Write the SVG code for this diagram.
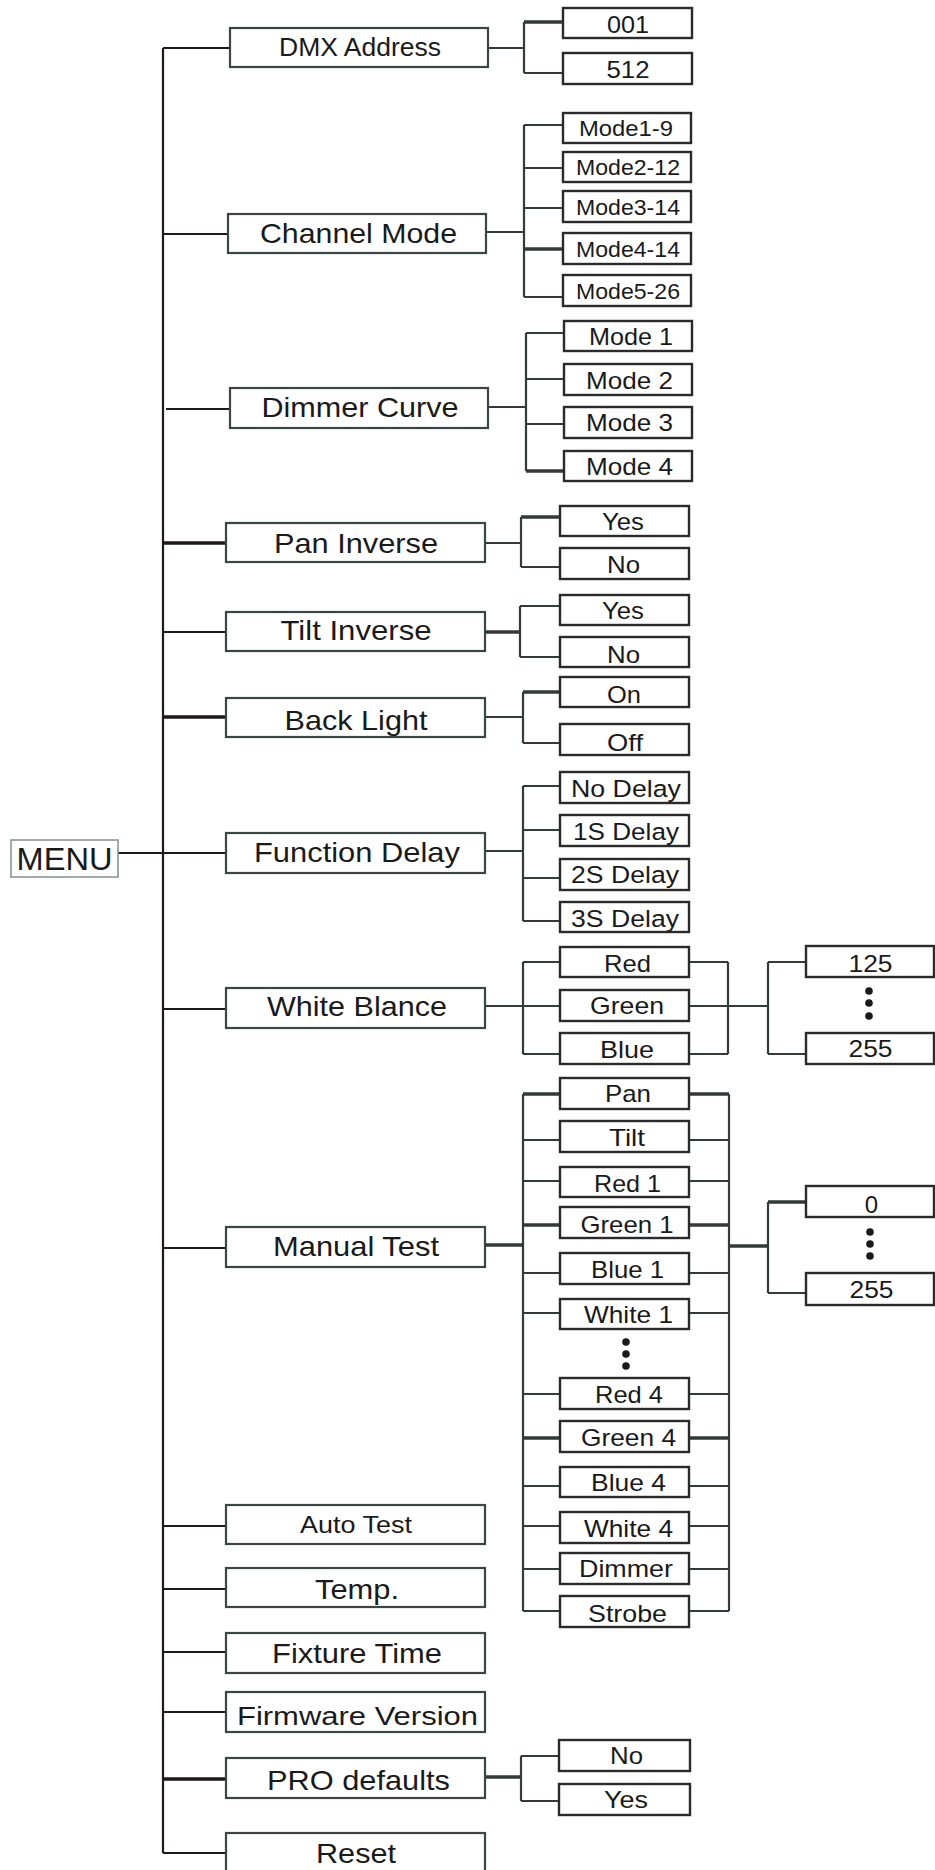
<svg xmlns="http://www.w3.org/2000/svg" width="935" height="1870" viewBox="0 0 935 1870">
<style>
.bg{fill:#fff}
.b1{fill:#fff;stroke:#3a4545;stroke-width:2.2}
.b2{fill:#fff;stroke:#2a2a2a;stroke-width:2.4}
.bm{fill:#fff;stroke:#8a9797;stroke-width:1.6}
text{font-family:"Liberation Sans",Arial,sans-serif;fill:#1a1a1a;text-anchor:middle}
.f1{font-size:28px}
.f2{font-size:24px}
.f3{font-size:21.5px}
.m{stroke:#1e1818;stroke-width:2.2;fill:none}
.c{stroke:#323a3a;stroke-width:2.2;fill:none}
.k{stroke-width:3.6}
.d{fill:#1a1a1a}
</style>
<rect class="bg" x="0" y="0" width="935" height="1870"/>
<g id="connectors">
<path class="m" d="M163 48V1853"/>
<path class="m" d="M163 48H230M163 234H228M166 409H230M163 632H226M118 853H226M163 1009H226M163 1248H226M163 1526H226M163 1589H226M163 1652H226M163 1712H226M163 1853H226"/>
<path class="m k" d="M163 543H226M163 717H226M163 1779H226"/>
<path class="c" d="M488 48H524M524 22V73M524 73H563"/>
<path class="c k" d="M524 22H563"/>
<path class="c" d="M486 232H524M524 125V297M524 125H563M524 168H563M524 208H563M524 297H563"/>
<path class="c k" d="M524 249H563"/>
<path class="c" d="M488 407H526M526 333V471M526 333H564M526 379H564M526 424H564"/>
<path class="c k" d="M526 471H564"/>
<path class="c" d="M485 543H521M521 517V567M521 567H560"/>
<path class="c k" d="M521 517H560"/>
<path class="c" d="M520 606V657M520 606H560M520 657H560"/>
<path class="c k" d="M485 632H520"/>
<path class="c" d="M485 717H523M523 692V743M523 743H560"/>
<path class="c k" d="M523 692H560"/>
<path class="c" d="M485 851H523M523 786V921M523 786H560M523 830H560M523 878H560M523 921H560"/>
<path class="c" d="M485 1006H560M523 962V1054M523 962H560M523 1054H560M689 962H728M689 1054H728M728 962V1054M689 1006H768M768 962V1054M768 962H806M768 1054H806"/>
<path class="c" d="M523 1094V1611M729 1094V1611M523 1140H560M523 1181H560M523 1273H560M523 1313H560M523 1394H560M523 1486H560M523 1526H560M523 1569H560M523 1611H560M689 1140H729M689 1181H729M689 1273H729M689 1313H729M689 1394H729M689 1486H729M689 1526H729M689 1569H729M689 1611H729M768 1202V1293M768 1293H806"/>
<path class="c k" d="M485 1245H523M523 1094H560M523 1225H560M523 1438H560M689 1094H729M689 1225H729M689 1438H729M729 1246H768M768 1202H806"/>
<path class="c" d="M521 1756V1801M521 1756H559M521 1801H559"/>
<path class="c k" d="M485 1777H521"/>
</g>
<g id="menu"><rect class="bm" x="11" y="840" width="107" height="37"/><text x="64.5" y="870" font-size="32" textLength="96" lengthAdjust="spacingAndGlyphs">MENU</text></g>
<g id="dmx-address"><rect class="b1" x="230" y="28" width="258" height="39"/><text x="360" y="56" font-size="25" textLength="162" lengthAdjust="spacingAndGlyphs">DMX Address</text></g>
<g id="dmx-001"><rect class="b2" x="563" y="8" width="129" height="30"/><text x="628" y="32.5" font-size="23" textLength="42" lengthAdjust="spacingAndGlyphs">001</text></g>
<g id="dmx-512"><rect class="b2" x="563" y="53" width="129" height="31"/><text x="628" y="78" font-size="23" textLength="43" lengthAdjust="spacingAndGlyphs">512</text></g>
<g id="channel-mode"><rect class="b1" x="228" y="214" width="258" height="39"/><text class="f1" x="358.5" y="242.5" textLength="197" lengthAdjust="spacingAndGlyphs">Channel Mode</text></g>
<g id="mode1-9"><rect class="b2" x="563" y="113" width="128" height="30"/><text class="f3" x="626" y="136" textLength="94" lengthAdjust="spacingAndGlyphs">Mode1-9</text></g>
<g id="mode2-12"><rect class="b2" x="563" y="152" width="128" height="30"/><text class="f3" x="628" y="175" textLength="104" lengthAdjust="spacingAndGlyphs">Mode2-12</text></g>
<g id="mode3-14"><rect class="b2" x="563" y="191" width="128" height="31"/><text class="f3" x="628" y="214.5" textLength="104" lengthAdjust="spacingAndGlyphs">Mode3-14</text></g>
<g id="mode4-14"><rect class="b2" x="563" y="233" width="128" height="31"/><text class="f3" x="628" y="256.5" textLength="104" lengthAdjust="spacingAndGlyphs">Mode4-14</text></g>
<g id="mode5-26"><rect class="b2" x="563" y="275" width="128" height="31"/><text class="f3" x="628" y="298.5" textLength="104" lengthAdjust="spacingAndGlyphs">Mode5-26</text></g>
<g id="dimmer-curve"><rect class="b1" x="230" y="388" width="258" height="40"/><text class="f1" x="360" y="416.7" textLength="197" lengthAdjust="spacingAndGlyphs">Dimmer Curve</text></g>
<g id="dc-mode1"><rect class="b2" x="564" y="321" width="128" height="30"/><text x="631" y="344.8" font-size="24.5" textLength="84" lengthAdjust="spacingAndGlyphs">Mode 1</text></g>
<g id="dc-mode2"><rect class="b2" x="564" y="364" width="128" height="31"/><text x="629.5" y="388.5" font-size="24.5" textLength="87" lengthAdjust="spacingAndGlyphs">Mode 2</text></g>
<g id="dc-mode3"><rect class="b2" x="564" y="407" width="128" height="31"/><text x="629.5" y="431" font-size="24.5" textLength="87" lengthAdjust="spacingAndGlyphs">Mode 3</text></g>
<g id="dc-mode4"><rect class="b2" x="564" y="451" width="128" height="30"/><text x="629.5" y="475" font-size="24.5" textLength="87" lengthAdjust="spacingAndGlyphs">Mode 4</text></g>
<g id="pan-inverse"><rect class="b1" x="226" y="523" width="259" height="39"/><text class="f1" x="356" y="553" textLength="164" lengthAdjust="spacingAndGlyphs">Pan Inverse</text></g>
<g id="pan-yes"><rect class="b2" x="560" y="506" width="129" height="30"/><text class="f2" x="623" y="530" textLength="42" lengthAdjust="spacingAndGlyphs">Yes</text></g>
<g id="pan-no"><rect class="b2" x="560" y="548" width="129" height="31"/><text class="f2" x="623.5" y="573" textLength="33" lengthAdjust="spacingAndGlyphs">No</text></g>
<g id="tilt-inverse"><rect class="b1" x="226" y="612" width="259" height="39"/><text class="f1" x="356" y="639.5" textLength="151" lengthAdjust="spacingAndGlyphs">Tilt Inverse</text></g>
<g id="tilt-yes"><rect class="b2" x="560" y="595" width="129" height="30"/><text class="f2" x="623" y="619" textLength="42" lengthAdjust="spacingAndGlyphs">Yes</text></g>
<g id="tilt-no"><rect class="b2" x="560" y="637" width="129" height="30"/><text class="f2" x="623.5" y="663" textLength="33" lengthAdjust="spacingAndGlyphs">No</text></g>
<g id="back-light"><rect class="b1" x="226" y="698" width="259" height="39"/><text class="f1" x="356" y="729.5" textLength="143" lengthAdjust="spacingAndGlyphs">Back Light</text></g>
<g id="bl-on"><rect class="b2" x="560" y="677" width="129" height="30"/><text class="f2" x="624" y="703" textLength="34" lengthAdjust="spacingAndGlyphs">On</text></g>
<g id="bl-off"><rect class="b2" x="560" y="724" width="129" height="31"/><text class="f2" x="625" y="750.5" textLength="36" lengthAdjust="spacingAndGlyphs">Off</text></g>
<g id="function-delay"><rect class="b1" x="226" y="833" width="259" height="40"/><text class="f1" x="357" y="861.7" textLength="206" lengthAdjust="spacingAndGlyphs">Function Delay</text></g>
<g id="no-delay"><rect class="b2" x="560" y="772" width="129" height="31"/><text x="626" y="797" font-size="24.5" textLength="110" lengthAdjust="spacingAndGlyphs">No Delay</text></g>
<g id="delay-1s"><rect class="b2" x="560" y="815" width="129" height="31"/><text x="626" y="840" font-size="24.5" textLength="106" lengthAdjust="spacingAndGlyphs">1S Delay</text></g>
<g id="delay-2s"><rect class="b2" x="560" y="859" width="129" height="31"/><text x="625" y="883" font-size="24.5" textLength="108" lengthAdjust="spacingAndGlyphs">2S Delay</text></g>
<g id="delay-3s"><rect class="b2" x="560" y="902" width="129" height="30"/><text x="625" y="926.5" font-size="24.5" textLength="108" lengthAdjust="spacingAndGlyphs">3S Delay</text></g>
<g id="white-blance"><rect class="b1" x="226" y="988" width="259" height="40"/><text class="f1" x="357" y="1016" textLength="180" lengthAdjust="spacingAndGlyphs">White Blance</text></g>
<g id="wb-red"><rect class="b2" x="560" y="947" width="129" height="30"/><text class="f2" x="627.5" y="971.5" textLength="47" lengthAdjust="spacingAndGlyphs">Red</text></g>
<g id="wb-green"><rect class="b2" x="560" y="990" width="129" height="31"/><text class="f2" x="627" y="1014" textLength="74" lengthAdjust="spacingAndGlyphs">Green</text></g>
<g id="wb-blue"><rect class="b2" x="560" y="1033" width="129" height="31"/><text class="f2" x="627" y="1058" textLength="54" lengthAdjust="spacingAndGlyphs">Blue</text></g>
<g id="wb-125"><rect class="b2" x="806" y="946" width="128" height="31"/><text x="870.5" y="971.7" font-size="23" textLength="44" lengthAdjust="spacingAndGlyphs">125</text></g>
<g id="wb-dots"><circle class="d" cx="869" cy="991" r="3.8"/><circle class="d" cx="869" cy="1003" r="3.8"/><circle class="d" cx="869" cy="1016" r="3.8"/></g>
<g id="wb-255"><rect class="b2" x="806" y="1033" width="128" height="31"/><text x="870.5" y="1057" font-size="23" textLength="44" lengthAdjust="spacingAndGlyphs">255</text></g>
<g id="manual-test"><rect class="b1" x="226" y="1227" width="259" height="40"/><text class="f1" x="356" y="1256" textLength="166" lengthAdjust="spacingAndGlyphs">Manual Test</text></g>
<g id="mt-pan"><rect class="b2" x="560" y="1078" width="129" height="31"/><text class="f2" x="628" y="1101.7" textLength="46" lengthAdjust="spacingAndGlyphs">Pan</text></g>
<g id="mt-tilt"><rect class="b2" x="560" y="1121" width="129" height="31"/><text class="f2" x="627" y="1146" textLength="36" lengthAdjust="spacingAndGlyphs">Tilt</text></g>
<g id="mt-red1"><rect class="b2" x="560" y="1167" width="129" height="30"/><text class="f2" x="627.5" y="1191.7" textLength="67" lengthAdjust="spacingAndGlyphs">Red 1</text></g>
<g id="mt-green1"><rect class="b2" x="560" y="1207" width="129" height="31"/><text class="f2" x="627" y="1233" textLength="93" lengthAdjust="spacingAndGlyphs">Green 1</text></g>
<g id="mt-blue1"><rect class="b2" x="560" y="1253" width="129" height="31"/><text class="f2" x="627.5" y="1278" textLength="73" lengthAdjust="spacingAndGlyphs">Blue 1</text></g>
<g id="mt-white1"><rect class="b2" x="560" y="1299" width="129" height="30"/><text class="f2" x="628.5" y="1323" textLength="89" lengthAdjust="spacingAndGlyphs">White 1</text></g>
<g id="mt-dots"><circle class="d" cx="626" cy="1342" r="3.8"/><circle class="d" cx="626" cy="1354" r="3.8"/><circle class="d" cx="626" cy="1366" r="3.8"/></g>
<g id="mt-red4"><rect class="b2" x="560" y="1378" width="129" height="31"/><text class="f2" x="629" y="1403" textLength="68" lengthAdjust="spacingAndGlyphs">Red 4</text></g>
<g id="mt-green4"><rect class="b2" x="560" y="1421" width="129" height="31"/><text class="f2" x="628.5" y="1446" textLength="95" lengthAdjust="spacingAndGlyphs">Green 4</text></g>
<g id="mt-blue4"><rect class="b2" x="560" y="1467" width="129" height="30"/><text class="f2" x="628.5" y="1490.7" textLength="75" lengthAdjust="spacingAndGlyphs">Blue 4</text></g>
<g id="mt-white4"><rect class="b2" x="560" y="1512" width="129" height="31"/><text class="f2" x="628.5" y="1536.7" textLength="89" lengthAdjust="spacingAndGlyphs">White 4</text></g>
<g id="mt-dimmer"><rect class="b2" x="560" y="1553" width="129" height="31"/><text class="f2" x="626" y="1577" textLength="94" lengthAdjust="spacingAndGlyphs">Dimmer</text></g>
<g id="mt-strobe"><rect class="b2" x="560" y="1596" width="129" height="31"/><text class="f2" x="627.5" y="1621.7" textLength="79" lengthAdjust="spacingAndGlyphs">Strobe</text></g>
<g id="mt-0"><rect class="b2" x="806" y="1186" width="128" height="31"/><text class="f2" x="871.5" y="1212.7">0</text></g>
<g id="mt-val-dots"><circle class="d" cx="870" cy="1232" r="3.8"/><circle class="d" cx="870" cy="1244" r="3.8"/><circle class="d" cx="870" cy="1256" r="3.8"/></g>
<g id="mt-255"><rect class="b2" x="806" y="1273" width="128" height="32"/><text class="f2" x="871.5" y="1298" textLength="44" lengthAdjust="spacingAndGlyphs">255</text></g>
<g id="auto-test"><rect class="b1" x="226" y="1505" width="259" height="39"/><text x="356" y="1533" font-size="24" textLength="112" lengthAdjust="spacingAndGlyphs">Auto Test</text></g>
<g id="temp"><rect class="b1" x="226" y="1568" width="259" height="39"/><text x="357" y="1599" font-size="27" textLength="84" lengthAdjust="spacingAndGlyphs">Temp.</text></g>
<g id="fixture-time"><rect class="b1" x="226" y="1633" width="259" height="40"/><text x="357" y="1662.7" font-size="27" textLength="170" lengthAdjust="spacingAndGlyphs">Fixture Time</text></g>
<g id="firmware-version"><rect class="b1" x="226" y="1692" width="259" height="40"/><text x="357.5" y="1725" font-size="26.5" textLength="241" lengthAdjust="spacingAndGlyphs">Firmware Version</text></g>
<g id="pro-defaults"><rect class="b1" x="226" y="1758" width="259" height="40"/><text class="f1" x="358.5" y="1790" textLength="183" lengthAdjust="spacingAndGlyphs">PRO defaults</text></g>
<g id="pro-no"><rect class="b2" x="559" y="1740" width="131" height="31"/><text class="f2" x="626.5" y="1764" textLength="33" lengthAdjust="spacingAndGlyphs">No</text></g>
<g id="pro-yes"><rect class="b2" x="559" y="1784" width="131" height="31"/><text class="f2" x="626" y="1808" textLength="44" lengthAdjust="spacingAndGlyphs">Yes</text></g>
<g id="reset"><rect class="b1" x="226" y="1833" width="259" height="42"/><text x="356" y="1863" font-size="27" textLength="80" lengthAdjust="spacingAndGlyphs">Reset</text></g>
</svg>
